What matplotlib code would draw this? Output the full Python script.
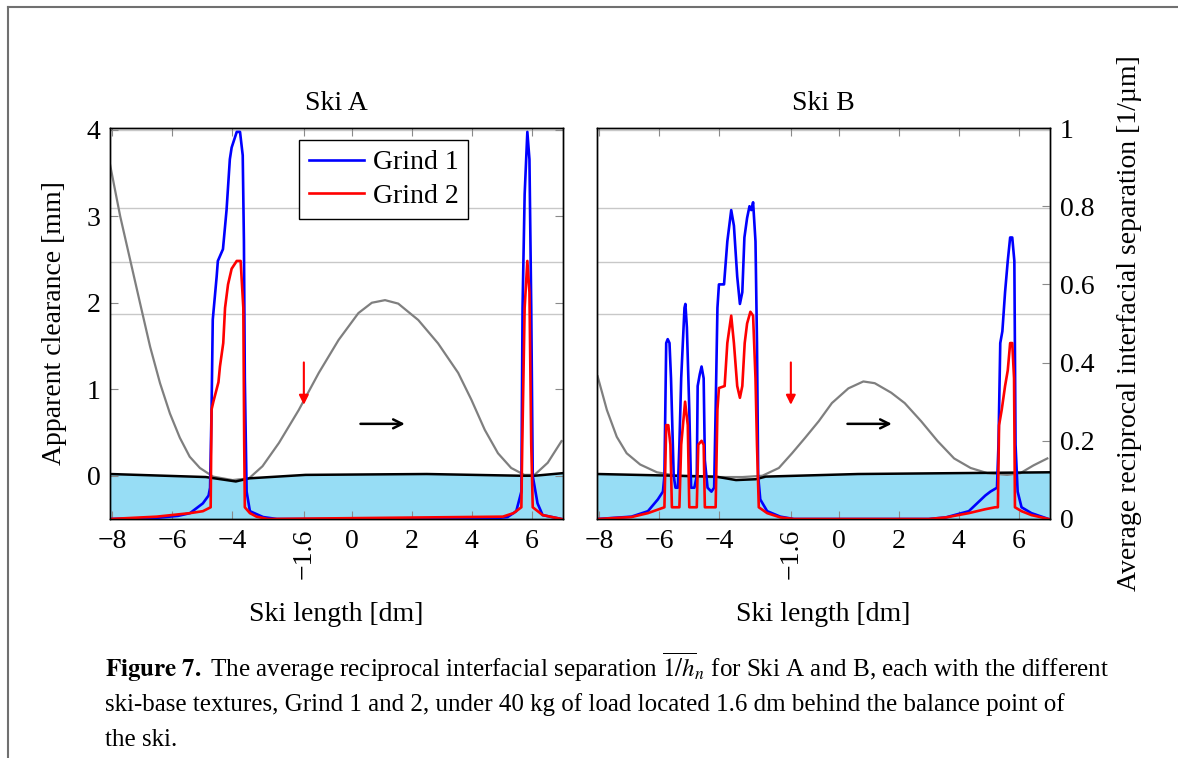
import matplotlib
matplotlib.use("Agg")
from matplotlib import pyplot as plt
from matplotlib.lines import Line2D

plt.rcParams['font.family'] = ['Liberation Serif', 'DejaVu Serif']
plt.rcParams['mathtext.fontset'] = 'stix'

# ---- data ----
# Ski A: snow/ski clearance (mm, left axis)
gray_x_a = [-8.07, -7.73, -7.4, -7.07, -6.73, -6.4, -6.07, -5.74, -5.41, -5.07, -4.63, -3.98,
            -3.43, -2.98, -2.43, -1.77, -1.1, -0.44, 0.22, 0.67, 1.11, 1.55, 2.22, 2.88,
            3.55, 3.99, 4.44, 4.88, 5.32, 5.76, 6.1, 6.54, 7.0]
gray_y_a = [3.6, 3.0, 2.5, 2.0, 1.49, 1.07, 0.72, 0.44, 0.22, 0.09, -0.01, -0.05,
            -0.03, 0.11, 0.38, 0.76, 1.19, 1.57, 1.88, 2.0, 2.03, 1.99, 1.8, 1.53,
            1.19, 0.88, 0.53, 0.26, 0.09, 0.01, 0.01, 0.15, 0.4]
base_x_a = [-8.07, -4.87, -3.87, -3.43, -1.54, 2.5, 5.65, 6.1, 7.05]
base_y_a = [0.02, -0.015, -0.066, -0.03, 0.01, 0.02, 0.0, 0.0, 0.03]

# Ski A: average reciprocal separation (1/um, right axis)
g1_x_a = [-8.07, -6.5, -5.8, -5.4, -4.97, -4.78, -4.73, -4.68, -4.64, -4.51, -4.47, -4.3, -4.18,
          -4.07, -4.01, -3.84, -3.73, -3.64, -3.6, -3.57, -3.51, -3.4, -2.96, -2.5, 4.5, 5.2,
          5.49, 5.66, 5.7, 5.77, 5.86, 5.93, 5.99, 6.04, 6.2, 6.37, 7.0]
g1_y_a = [0.0, 0.003, 0.008, 0.015, 0.04, 0.06, 0.08, 0.28, 0.51, 0.62, 0.66, 0.69, 0.79,
          0.92, 0.95, 0.99, 0.99, 0.93, 0.71, 0.36, 0.07, 0.02, 0.005, 0.0, 0.0, 0.005,
          0.02, 0.07, 0.54, 0.83, 0.99, 0.92, 0.54, 0.11, 0.04, 0.01, 0.0]
g2_x_a = [-8.07, -6.51, -5.4, -4.97, -4.71, -4.68, -4.62, -4.45, -4.4, -4.29, -4.23, -4.13, -4.01,
          -3.84, -3.71, -3.62, -3.59, -3.57, -3.4, -3.18, -2.8, 5.04, 5.4, 5.66, 5.69, 5.77,
          5.86, 5.93, 5.99, 6.04, 6.37, 7.0]
g2_y_a = [0.0, 0.006, 0.015, 0.02, 0.03, 0.28, 0.3, 0.35, 0.39, 0.45, 0.54, 0.6, 0.64,
          0.66, 0.66, 0.54, 0.19, 0.03, 0.015, 0.006, 0.0, 0.006, 0.015, 0.03, 0.19, 0.54,
          0.66, 0.58, 0.19, 0.03, 0.01, 0.0]

# Ski B
gray_x_b = [-8.05, -7.74, -7.41, -7.08, -6.63, -6.07, -5.42, -4.31, -3.21, -2.55, -2.0, -1.56,
            -1.12, -0.67, -0.23, 0.32, 0.82, 1.2, 1.75, 2.2, 2.75, 3.3, 3.85, 4.4,
            4.96, 5.62, 6.06, 6.5, 6.96]
gray_y_b = [1.15, 0.76, 0.45, 0.26, 0.13, 0.04, 0.0, -0.015, -0.015, 0.0, 0.09, 0.26,
            0.44, 0.63, 0.84, 1.01, 1.09, 1.07, 0.96, 0.84, 0.63, 0.4, 0.2, 0.09,
            0.03, 0.01, 0.03, 0.12, 0.2]
base_x_b = [-8.05, -4.1, -3.43, -2.77, -2.44, 0.65, 7.05]
base_y_b = [0.02, -0.01, -0.05, -0.04, -0.01, 0.02, 0.04]

g1_x_b = [-8.05, -6.92, -6.37, -6.04, -5.87, -5.82, -5.76, -5.71, -5.65, -5.6, -5.51, -5.45,
          -5.37, -5.32, -5.26, -5.15, -5.12, -5.07, -4.99, -4.93, -4.82, -4.74, -4.71, -4.64,
          -4.58, -4.51, -4.47, -4.38, -4.25, -4.16, -4.11, -4.05, -4.0, -3.88, -3.83, -3.72,
          -3.59, -3.5, -3.39, -3.3, -3.22, -3.15, -3.06, -2.98, -2.92, -2.86, -2.78, -2.73,
          -2.69, -2.62, -2.39, -1.95, -1.5, 3.0, 3.57, 4.34, 4.89, 5.06, 5.28, 5.33, 5.39,
          5.46, 5.55, 5.64, 5.72, 5.79, 5.86, 5.9, 5.97, 6.1, 6.43, 7.0]
g1_y_b = [0.0, 0.006, 0.02, 0.05, 0.07, 0.11, 0.45, 0.46, 0.45, 0.36, 0.11, 0.08,
          0.08, 0.19, 0.36, 0.54, 0.55, 0.49, 0.28, 0.08, 0.08, 0.11, 0.34, 0.37,
          0.39, 0.36, 0.15, 0.08, 0.07, 0.08, 0.28, 0.54, 0.6, 0.6, 0.6, 0.71,
          0.79, 0.75, 0.62, 0.55, 0.58, 0.72, 0.77, 0.8, 0.79, 0.81, 0.71, 0.45,
          0.11, 0.05, 0.02, 0.006, 0.0, 0.0, 0.004, 0.02, 0.06, 0.07, 0.08, 0.19, 0.45,
          0.48, 0.58, 0.66, 0.72, 0.72, 0.66, 0.19, 0.07, 0.03, 0.015, 0.0]
g2_x_b = [-8.05, -6.92, -6.37, -5.82, -5.76, -5.69, -5.62, -5.57, -5.32, -5.26, -5.13, -5.04,
          -4.99, -4.74, -4.69, -4.58, -4.51, -4.47, -4.11, -4.05, -4.0, -3.81, -3.72, -3.59,
          -3.5, -3.39, -3.3, -3.22, -3.14, -3.06, -2.95, -2.86, -2.78, -2.73, -2.67, -2.39,
          -1.95, -1.5, 3.0, 3.57, 4.34, 4.89, 5.22, 5.31, 5.35, 5.44, 5.55, 5.64, 5.72,
          5.79, 5.85, 5.88, 6.1, 6.43, 7.0]
g2_y_b = [0.0, 0.005, 0.015, 0.03, 0.24, 0.24, 0.19, 0.03, 0.03, 0.19, 0.3, 0.24,
          0.03, 0.03, 0.19, 0.2, 0.19, 0.03, 0.03, 0.28, 0.335, 0.34, 0.45, 0.52,
          0.45, 0.34, 0.31, 0.34, 0.45, 0.5, 0.53, 0.52, 0.36, 0.19, 0.03, 0.015,
          0.004, 0.0, 0.0, 0.004, 0.015, 0.025, 0.03, 0.03, 0.24, 0.28, 0.34, 0.38, 0.45,
          0.45, 0.36, 0.03, 0.02, 0.01, 0.0]

panels = [
    ('Ski A', gray_x_a, gray_y_a, base_x_a, base_y_a, g1_x_a, g1_y_a, g2_x_a, g2_y_a),
    ('Ski B', gray_x_b, gray_y_b, base_x_b, base_y_b, g1_x_b, g1_y_b, g2_x_b, g2_y_b),
]
xticks = [-8, -6, -4, -1.6, 0, 2, 4, 6]
xticklabels = ['\u22128', '\u22126', '\u22124', '\u22121.6', '0', '2', '4', '6']
load_pos = -1.6

fig = plt.figure(figsize=(11.78, 7.58), dpi=100)
W, H = 1178, 758
tickgray = '#8a8a8a'

for i, (title, gx, gy, bx, by, x1, y1, x2, y2) in enumerate(panels):
    left = [110, 597][i]
    ax = fig.add_axes([left / W, (H - 519) / H, 453 / W, 391 / H])
    ax2 = ax.twinx()

    ax.fill_between(bx, by, -0.5, color='#97DDF5', lw=0, zorder=1)
    for gl in [4.0, 3.1, 2.47, 1.87]:
        ax.axhline(gl, color='#c8c8c8', lw=1, zorder=0)
    ax.plot(gx, gy, color='#7f7f7f', lw=1.6, zorder=2)
    ax.plot(bx, by, color='black', lw=1.8, zorder=3)
    ax.annotate('', xy=(load_pos, 0.82), xytext=(load_pos, 1.31),
                arrowprops=dict(arrowstyle='-|>', color='red', lw=1.5,
                                mutation_scale=14, shrinkA=0, shrinkB=0), zorder=4)
    ax.annotate('', xy=(1.77, 0.6), xytext=(0.29, 0.6),
                arrowprops=dict(arrowstyle='->', color='black', lw=1.8,
                                mutation_scale=16, shrinkA=0, shrinkB=0), zorder=4)

    l1, = ax2.plot(x1, y1, color='#0000ff', lw=1.9, label='Grind 1')
    l2, = ax2.plot(x2, y2, color='#ff0000', lw=1.9, label='Grind 2')

    ax.set_xlim(-8.07, 7.05)
    ax.set_ylim(-0.5, 4.02)
    ax2.set_ylim(0, 1.0)
    ax.set_xticks(xticks)
    ax.set_xticklabels(xticklabels)
    for lab in ax.get_xticklabels():
        if lab.get_text() == '\u22121.6':
            lab.set_rotation(90)
    ax.set_yticks([0, 1, 2, 3, 4])
    ax2.set_yticks([0, 0.2, 0.4, 0.6, 0.8, 1])
    ax2.set_yticklabels(['0', '0.2', '0.4', '0.6', '0.8', '1'])

    ax.tick_params(axis='both', direction='in', length=6, color=tickgray,
                   labelsize=20, top=True, pad=7)
    ax2.tick_params(axis='y', direction='in', length=6, color=tickgray,
                    labelsize=20, pad=7)
    for a in (ax, ax2):
        for s in a.spines.values():
            s.set_linewidth(1.0)

    ax.text(0.5, 1.062, title, transform=ax.transAxes, ha='center', va='center',
            fontsize=20)
    ax.set_xlabel('Ski length [dm]', fontsize=20)
    ax.xaxis.set_label_coords(0.5, -0.212)

    if i == 0:
        ax.tick_params(axis='y', right=True)
        ax2.tick_params(axis='y', right=False, labelright=False)
        ax.set_ylabel('Apparent clearance [mm]', fontsize=20)
        ax.yaxis.set_label_coords(-0.095, 0.5)
        leg = ax2.legend(handles=[l1, l2], loc='upper left', bbox_to_anchor=(0.417, 0.969),
                         borderaxespad=0, fontsize=20, fancybox=False, framealpha=1,
                         edgecolor='black', handlelength=2.0, handletextpad=0.3,
                         labelspacing=0.3, borderpad=0.35)
        leg.get_frame().set_linewidth(1.0)
    else:
        ax.tick_params(axis='y', left=False, labelleft=False)
        ax2.set_ylabel('Average reciprocal interfacial separation [1/\u00b5m]', fontsize=20)
        ax2.yaxis.set_label_coords(1.148, 0.5)

# page frame lines
fig.add_artist(Line2D([8 / W, 1.0], [(H - 7) / H, (H - 7) / H], color='#707070', lw=1.5))
fig.add_artist(Line2D([8 / W, 8 / W], [0, (H - 7) / H], color='#707070', lw=1.5))

caption = [
    r'$\mathbf{Figure\ 7.}$ The average reciprocal interfacial separation $\overline{1/h}_n$ for Ski A and B, each with the different',
    'ski-base textures, Grind 1 and 2, under 40 kg of load located 1.6 dm behind the balance point of',
    'the ski.',
]
for k, line in enumerate(caption):
    fig.text(105 / W, 1 - [667, 705, 740][k] / H, line, fontsize=18, ha='left', va='center')

fig.savefig('out.png', dpi=100)
